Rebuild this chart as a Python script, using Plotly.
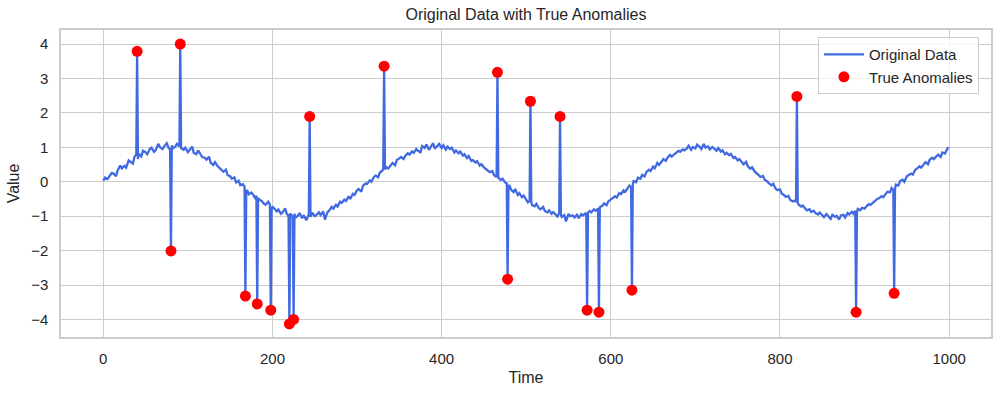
import plotly.graph_objects as go

# Full series (time index, value); spikes are the anomalies
line_time = [
    0, 2, 5, 7, 10, 12, 15, 17, 20, 22, 25, 27, 30, 32, 35, 37, 39, 40, 41, 42,
    45, 47, 50, 52, 55, 57, 60, 62, 65, 67, 70, 72, 75, 77, 79, 80, 81, 82, 85, 87,
    90, 91, 92, 95, 97, 100, 102, 105, 107, 110, 112, 115, 117, 120, 122, 125, 127, 130, 132, 135,
    137, 140, 142, 145, 147, 150, 152, 155, 157, 160, 162, 165, 167, 168, 169, 170, 172, 175, 177, 180,
    181, 182, 183, 185, 187, 190, 192, 195, 197, 198, 199, 200, 202, 205, 207, 210, 212, 215, 217, 219,
    220, 221, 224, 225, 226, 227, 230, 232, 235, 237, 240, 243, 244, 245, 247, 250, 252, 255, 257, 260,
    262, 265, 267, 270, 272, 275, 277, 280, 282, 285, 287, 290, 292, 295, 297, 300, 302, 305, 307, 310,
    312, 315, 317, 320, 322, 325, 327, 330, 331, 332, 333, 335, 337, 340, 342, 345, 347, 350, 352, 355,
    357, 360, 362, 365, 367, 370, 372, 375, 377, 380, 382, 385, 387, 390, 392, 395, 397, 400, 402, 405,
    407, 410, 412, 415, 417, 420, 422, 425, 427, 430, 432, 435, 437, 440, 442, 445, 447, 450, 452, 455,
    457, 460, 462, 465, 466, 467, 470, 472, 475, 477, 478, 479, 480, 482, 485, 487, 490, 492, 495, 497,
    500, 502, 504, 505, 506, 507, 510, 512, 515, 517, 520, 522, 525, 527, 530, 532, 535, 537, 539, 540,
    541, 542, 545, 547, 550, 552, 555, 557, 560, 562, 565, 567, 570, 571, 572, 573, 575, 577, 580, 582,
    585, 586, 587, 590, 592, 595, 597, 600, 602, 605, 607, 610, 612, 615, 617, 620, 622, 624, 625, 626,
    627, 630, 632, 635, 637, 640, 642, 645, 647, 650, 652, 655, 657, 660, 662, 665, 667, 670, 672, 675,
    677, 680, 682, 685, 687, 690, 692, 695, 697, 700, 702, 705, 707, 710, 712, 715, 717, 720, 722, 725,
    727, 730, 732, 735, 737, 740, 742, 745, 747, 750, 752, 755, 757, 760, 762, 765, 767, 770, 772, 775,
    777, 780, 782, 785, 787, 790, 792, 795, 797, 800, 802, 805, 807, 810, 812, 815, 817, 819, 820, 821,
    822, 825, 827, 830, 832, 835, 837, 840, 842, 845, 847, 850, 852, 855, 857, 860, 862, 865, 867, 870,
    872, 875, 877, 880, 882, 885, 887, 889, 890, 891, 892, 895, 897, 900, 902, 905, 907, 910, 912, 915,
    917, 920, 922, 925, 927, 930, 932, 934, 935, 936, 937, 940, 942, 945, 947, 950, 952, 955, 957, 960,
    962, 965, 967, 970, 972, 975, 977, 980, 982, 985, 987, 990, 992, 995, 997, 999,
]
line_value = [
    0.03, 0.12, 0.08, 0.17, 0.26, 0.24, 0.16, 0.33, 0.47, 0.39, 0.46, 0.41, 0.62, 0.58, 0.53, 0.74, 0.78, 3.79, 0.66, 0.81,
    0.74, 0.90, 0.86, 0.80, 0.95, 0.99, 0.87, 0.92, 1.10, 1.01, 0.95, 1.03, 1.12, 1.00, 0.93, -2.01, 1.06, 0.97, 1.02, 1.10,
    1.03, 4.00, 0.98, 0.93, 0.99, 0.86, 0.94, 1.02, 0.84, 0.80, 0.91, 0.78, 0.72, 0.70, 0.64, 0.73, 0.55, 0.49, 0.57, 0.46,
    0.41, 0.33, 0.29, 0.35, 0.19, 0.16, 0.09, 0.13, -0.02, 0.03, -0.10, -0.07, -0.14, -3.32, -0.30, -0.24, -0.36, -0.31, -0.37, -0.50,
    -0.40, -3.55, -0.47, -0.53, -0.55, -0.64, -0.67, -0.58, -0.66, -3.73, -0.80, -0.72, -0.77, -0.86, -0.81, -0.93, -0.89, -0.77, -0.94, -0.97,
    -4.13, -0.92, -1.02, -4.00, -0.93, -1.04, -0.99, -0.91, -1.06, -0.97, -1.12, -0.95, 1.90, -1.02, -0.90, -1.00, -0.96, -0.89, -0.97, -0.86,
    -1.10, -0.88, -0.84, -0.73, -0.78, -0.67, -0.72, -0.58, -0.61, -0.52, -0.56, -0.42, -0.50, -0.35, -0.38, -0.25, -0.21, -0.29, -0.12, -0.05,
    -0.06, 0.04, 0.00, 0.14, 0.18, 0.13, 0.27, 0.33, 0.38, 3.36, 0.36, 0.42, 0.39, 0.50, 0.55, 0.48, 0.63, 0.68, 0.72, 0.66,
    0.75, 0.83, 0.79, 0.88, 0.84, 0.95, 0.90, 0.86, 1.04, 0.98, 1.08, 0.93, 1.01, 1.12, 0.96, 1.05, 1.10, 0.98, 1.06, 0.94,
    1.02, 0.95, 0.99, 0.85, 0.91, 0.83, 0.88, 0.76, 0.80, 0.69, 0.75, 0.61, 0.63, 0.56, 0.60, 0.47, 0.51, 0.42, 0.38, 0.33,
    0.28, 0.31, 0.19, 0.14, 3.18, 0.12, 0.05, 0.09, -0.02, -0.05, -2.83, -0.14, -0.09, -0.23, -0.30, -0.21, -0.38, -0.33, -0.45, -0.40,
    -0.54, -0.60, -0.55, 2.34, -0.60, -0.68, -0.71, -0.64, -0.77, -0.80, -0.73, -0.85, -0.89, -0.83, -0.93, -0.88, -0.96, -1.01, -0.91, 1.90,
    -0.95, -1.02, -0.97, -1.15, -0.93, -1.00, -0.98, -1.04, -0.96, -1.06, -0.94, -0.98, -0.92, -0.95, -3.73, -0.90, -0.85, -0.89, -0.80, -0.84,
    -0.78, -3.79, -0.74, -0.70, -0.63, -0.68, -0.57, -0.51, -0.49, -0.42, -0.46, -0.33, -0.36, -0.25, -0.29, -0.16, -0.11, -0.15, -3.15, -0.06,
    0.02, -0.01, 0.12, 0.09, 0.20, 0.16, 0.28, 0.35, 0.31, 0.44, 0.39, 0.55, 0.49, 0.58, 0.66, 0.61, 0.70, 0.78, 0.73, 0.80,
    0.84, 0.90, 0.87, 0.94, 0.91, 0.97, 1.05, 0.93, 1.01, 0.97, 1.08, 1.02, 0.95, 1.10, 0.99, 1.03, 0.94, 1.01, 0.97, 0.90,
    0.98, 0.88, 0.92, 0.80, 0.84, 0.77, 0.81, 0.69, 0.72, 0.62, 0.66, 0.55, 0.51, 0.58, 0.45, 0.38, 0.42, 0.30, 0.26, 0.20,
    0.14, 0.17, 0.06, 0.01, -0.05, -0.10, -0.06, -0.20, -0.24, -0.22, -0.34, -0.39, -0.44, -0.41, -0.52, -0.57, -0.55, -0.58, 2.48, -0.61,
    -0.66, -0.72, -0.69, -0.78, -0.83, -0.80, -0.88, -0.84, -0.91, -0.95, -0.89, -0.97, -1.03, -0.94, -1.00, -1.08, -0.96, -1.02, -0.99, -1.10,
    -0.98, -0.96, -1.04, -0.91, -0.95, -0.87, -0.93, -0.84, -3.79, -0.88, -0.79, -0.83, -0.76, -0.78, -0.72, -0.65, -0.67, -0.60, -0.57, -0.50,
    -0.48, -0.42, -0.45, -0.33, -0.29, -0.31, -0.18, -0.24, -3.24, -0.22, -0.08, -0.11, 0.02, 0.06, 0.00, 0.16, 0.20, 0.24, 0.21, 0.35,
    0.38, 0.45, 0.41, 0.52, 0.57, 0.51, 0.64, 0.70, 0.66, 0.74, 0.79, 0.72, 0.85, 0.82, 0.93, 1.01,
]

# True anomalies (time index, value)
anomaly_time = [40, 80, 91, 168, 182, 198, 220, 225, 244, 332, 466, 478, 505, 540, 572, 586, 625, 820, 890, 935]
anomaly_value = [3.79, -2.01, 4.00, -3.32, -3.55, -3.73, -4.13, -4.00, 1.90, 3.36, 3.18, -2.83, 2.34, 1.90, -3.73, -3.79, -3.15, 2.48, -3.79, -3.24]

x_ticks = [0, 200, 400, 600, 800, 1000]
y_ticks = [-4, -3, -2, -1, 0, 1, 2, 3, 4]

FONT = "Liberation Sans, Arial, DejaVu Sans, sans-serif"
TXT = "#262626"
GRID = "#cccccc"

fig = go.Figure()
fig.add_trace(go.Scatter(
    x=line_time, y=line_value, mode="lines", name="Original Data",
    line=dict(color="#4169E1", width=2.3),
))
fig.add_trace(go.Scatter(
    x=anomaly_time, y=anomaly_value, mode="markers", name="True Anomalies",
    marker=dict(color="red", size=11, line=dict(width=0)),
))

fig.update_layout(
    width=1001, height=396,
    margin=dict(l=61, r=10, t=30, b=59),
    paper_bgcolor="white", plot_bgcolor="white",
    font=dict(family=FONT, color=TXT, size=15),
    title=dict(text="Original Data with True Anomalies", x=0.5, xref="paper",
               y=1 - 14 / 396, yref="container", yanchor="middle",
               font=dict(size=16, color=TXT)),
    legend=dict(x=0.987, xanchor="right", y=0.977, yanchor="top",
                bgcolor="rgba(255,255,255,0.8)", bordercolor=GRID, borderwidth=1,
                font=dict(size=15, color=TXT), itemwidth=40, tracegroupgap=0),
    showlegend=True,
)
fig.update_xaxes(
    range=[-50, 1049.5], tickvals=x_ticks, ticktext=[str(v) for v in x_ticks],
    showgrid=True, gridcolor=GRID, gridwidth=1, zeroline=False,
    showline=True, linecolor=GRID, linewidth=1.5, mirror=True,
    ticks="outside", ticklen=7, tickcolor="rgba(0,0,0,0)",
    tickfont=dict(size=15, color=TXT), automargin=False,
    title=dict(text="Time", font=dict(size=16, color=TXT), standoff=6),
)
fig.update_yaxes(
    range=[-4.51, 4.41], tickvals=y_ticks, ticktext=[str(v).replace("-", "\u2212") for v in y_ticks],
    showgrid=True, gridcolor=GRID, gridwidth=1, zeroline=False,
    showline=True, linecolor=GRID, linewidth=1.5, mirror=True,
    ticks="outside", ticklen=8, tickcolor="rgba(0,0,0,0)",
    tickfont=dict(size=15, color=TXT), automargin=False,
    title=dict(text="Value", font=dict(size=16, color=TXT), standoff=8),
)

fig.write_html("out.html", config={"displayModeBar": False},
               post_script="document.body.style.margin='0';")
